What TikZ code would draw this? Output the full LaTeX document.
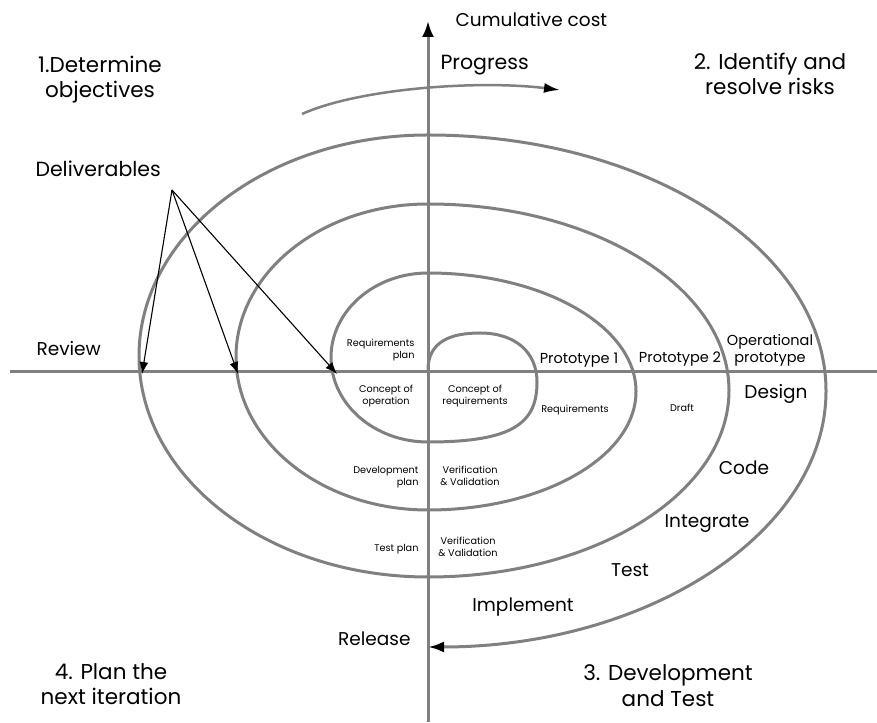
\documentclass[tikz,border=0pt]{standalone}
\usepackage{fontspec}
\setmainfont{Poppins}
\usetikzlibrary{arrows.meta}
\definecolor{spiral}{RGB}{128,128,128}

\begin{document}
\begin{tikzpicture}[x=1pt,y=1pt,
axis/.style={color=spiral,line width=3pt},
turn/.style={color=spiral,line width=3pt},
deliv/.style={-{Latex[length=12pt,width=9pt]},line width=1.1pt},
phase/.style={font=\fontsize{21.5}{25}\selectfont,align=center},
word/.style={font=\fontsize{18.5}{22}\selectfont},
proto/.style={font=\fontsize{14.5}{17}\selectfont,align=center},
tiny/.style={font=\fontsize{9.7}{12.5}\selectfont}]

\useasboundingbox (0,0) rectangle (877,722);

\draw [axis] (10,350) -- (877,350);
\draw [axis,-{Latex[color=black,length=16pt,width=12pt]}] (428,0) -- (428,701);

\draw [turn] (428,352) .. controls (428,380) and (450,389) .. (480,389)
  .. controls (515,389) and (537,370) .. (537,340)
  .. controls (537,300) and (515,280) .. (428,280)
  arc[start angle=270,end angle=90,x radius=97,y radius=84.5]
  arc[start angle=90,end angle=-90,x radius=208,y radius=118.5]
  arc[start angle=270,end angle=90,x radius=192,y radius=153]
  arc[start angle=90,end angle=-90,x radius=301,y radius=186.5]
  arc[start angle=270,end angle=90,x radius=289,y radius=221];
\draw [turn,-{Latex[color=black,length=16pt,width=11pt]}] (428,587)
  arc[start angle=90,end angle=-90,x radius=398,y radius=256];

\draw [turn,line width=2.5pt,-{Latex[color=black,length=16pt,width=10pt]}] (302,608) .. controls (360,634) and (480,642) .. (560,632);

\node [phase,font=\fontsize{20.5}{25}\selectfont,anchor=base west] (deliverables) at (32,545) {Deliverables};
\coordinate (fork) at (172,532);
\coordinate (hit1) at (142,348);
\coordinate (hit2) at (238,348);
\coordinate (hit3) at (337,348);
\draw [deliv] (fork) -- (hit1);
\draw [deliv] (fork) -- (hit2);
\draw [deliv] (fork) -- (hit3);

\node [word,anchor=base west] (cost) at (452,695) {Cumulative cost};
\node [phase,font=\fontsize{20.5}{25}\selectfont,anchor=base west] (progress) at (437,652) {Progress};
\node [phase,anchor=base] (step1) at (100,624) {1.Determine\\objectives};
\node [phase,anchor=base] (step2) at (770,627) {2. Identify and\\resolve risks};
\node [phase,anchor=base] (step3) at (668,16) {3. Development\\and Test};
\node [phase,anchor=base] (step4) at (111,17) {4. Plan the\\next iteration};

\node [word,anchor=base west] (review) at (33,366) {Review};
\node [word,anchor=base east] (release) at (414,76) {Release};
\node [proto,anchor=base] (proto1) at (579,358) {Prototype 1};
\node [proto,anchor=base] (proto2) at (680,359) {Prototype 2};
\node [proto,anchor=base] (opproto) at (770,359) {Operational\\prototype};

\node [word,anchor=base] (design) at (776,323) {Design};
\node [word,anchor=base] (code) at (744,247) {Code};
\node [word,anchor=base] (integrate) at (707,194) {Integrate};
\node [word,anchor=base] (test) at (630,145) {Test};
\node [word,anchor=base] (implement) at (523,110) {Implement};

\node [tiny,anchor=base east,align=right] (reqplan) at (418,363) {Requirements\\plan};
\node [tiny,anchor=base,align=center] (conop) at (386,317) {Concept of\\operation};
\node [tiny,anchor=base,align=center] (conreq) at (475,317) {Concept of\\requirements};
\node [tiny,anchor=base] (req) at (575,309) {Requirements};
\node [tiny,anchor=base] (draft) at (682,310) {Draft};
\node [tiny,anchor=base east,align=right] (devplan) at (422,236) {Development\\plan};
\node [tiny,anchor=base,align=center] (vv1) at (470,236) {Verification\\\& Validation};
\node [tiny,anchor=base east] (testplan) at (422,170) {Test plan};
\node [tiny,anchor=base,align=center] (vv2) at (468,165) {Verification\\\& Validation};
\end{tikzpicture}
\end{document}
